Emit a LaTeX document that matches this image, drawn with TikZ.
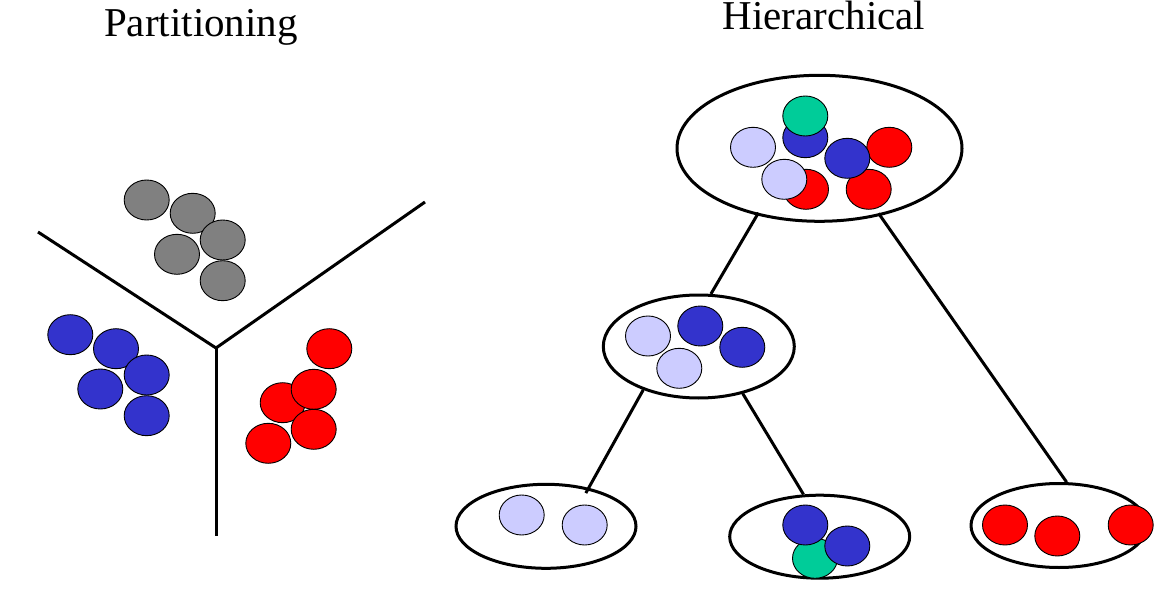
\documentclass[tikz,border=0pt]{standalone}
\usepackage{fontspec}
\setmainfont{Liberation Serif}
\usetikzlibrary{shapes.geometric}

\definecolor{dotblue}{RGB}{51,51,204}
\definecolor{dotred}{RGB}{255,0,0}
\definecolor{dotgray}{RGB}{128,128,128}
\definecolor{dotlilac}{RGB}{204,204,255}
\definecolor{dotgreen}{RGB}{0,204,153}

\tikzset{
  blob/.style={ellipse, draw=black, line width=0.9pt, inner sep=0pt,
    minimum width=45pt, minimum height=40pt},
  cluster/.style={ellipse, draw=black, line width=3pt, inner sep=0pt},
  title/.style={font=\fontsize{41}{49}\selectfont, anchor=base},
  cut/.style={line width=3pt}
}

\begin{document}
\begin{tikzpicture}[x=1pt, y=-1pt]
\useasboundingbox (0,0) rectangle (1154,596);

\node [title] (part-title) at (201,37) {Partitioning};
\node [title] (hier-title) at (824,30) {Hierarchical};

% partitioning
\coordinate (hub) at (216,348);
\coordinate (cut-left) at (38,232);
\coordinate (cut-right) at (425,202);
\coordinate (cut-down) at (216,536);
\foreach \e in {left,right,down}
  \draw [cut] (hub) -- (cut-\e);

\foreach \x/\y [count=\i] in {146.7/200, 192.7/213.3, 222.7/240, 177/254.3, 222.7/280.7}
  \node [blob, fill=dotgray] (gray-\i) at (\x,\y) {};

\foreach \x/\y [count=\i] in {70.3/334.7, 116/348.7, 100.3/389, 146.7/375, 146.7/415.7}
  \node [blob, fill=dotblue] (blue-\i) at (\x,\y) {};

\foreach \x/\y [count=\i] in {329.3/348.7, 282.7/402.7, 313.7/389.3, 313.7/429.3, 268.3/443.3}
  \node [blob, fill=dotred] (red-\i) at (\x,\y) {};

% hierarchical
\node [cluster, minimum width=285pt, minimum height=146pt] (root) at (819.5,148.3) {};
\node [cluster, minimum width=191pt, minimum height=103pt] (mid) at (698.8,346.5) {};
\node [cluster, minimum width=180pt, minimum height=84pt] (leaf-1) at (546,526.3) {};
\node [cluster, minimum width=180pt, minimum height=83pt] (leaf-2) at (819.7,536.7) {};
\node [cluster, minimum width=176pt, minimum height=84pt] (leaf-3) at (1059,525.5) {};

\foreach \c/\x/\y [count=\i] in {dotlilac/753/147.3, dotred/806/189.3, dotlilac/784.3/179.3,
    dotblue/805.3/137.7, dotgreen/805.3/116, dotred/889.3/147.3, dotred/868.7/189.3,
    dotblue/847.3/158.3}
  \node [blob, fill=\c] (root-\i) at (\x,\y) {};

\foreach \c/\x/\y [count=\i] in {dotlilac/648/336, dotblue/700.3/326, dotblue/742.3/347.3,
    dotlilac/679.3/368.3}
  \node [blob, fill=\c] (mid-\i) at (\x,\y) {};

\foreach \c/\x/\y [count=\i] in {dotlilac/521.7/515, dotlilac/584.7/525}
  \node [blob, fill=\c] (leaf-1-\i) at (\x,\y) {};

\foreach \c/\x/\y [count=\i] in {dotgreen/815/558.3, dotblue/805.3/525, dotblue/847.3/546}
  \node [blob, fill=\c] (leaf-2-\i) at (\x,\y) {};

\foreach \c/\x/\y [count=\i] in {dotred/1005/525, dotred/1057.3/536, dotred/1130.7/525}
  \node [blob, fill=\c] (leaf-3-\i) at (\x,\y) {};

\draw [cut, shorten <=-3pt] (root.227.7) -- (mid.77.5);
\draw [cut, shorten <=-3pt] (root.312.5) -- (leaf-3.80.8);
\draw [cut, shorten >=-6pt] (mid.218.6) -- (leaf-1.42);
\draw [cut] (mid.313.5) -- (leaf-2.111.5);
\end{tikzpicture}
\end{document}
